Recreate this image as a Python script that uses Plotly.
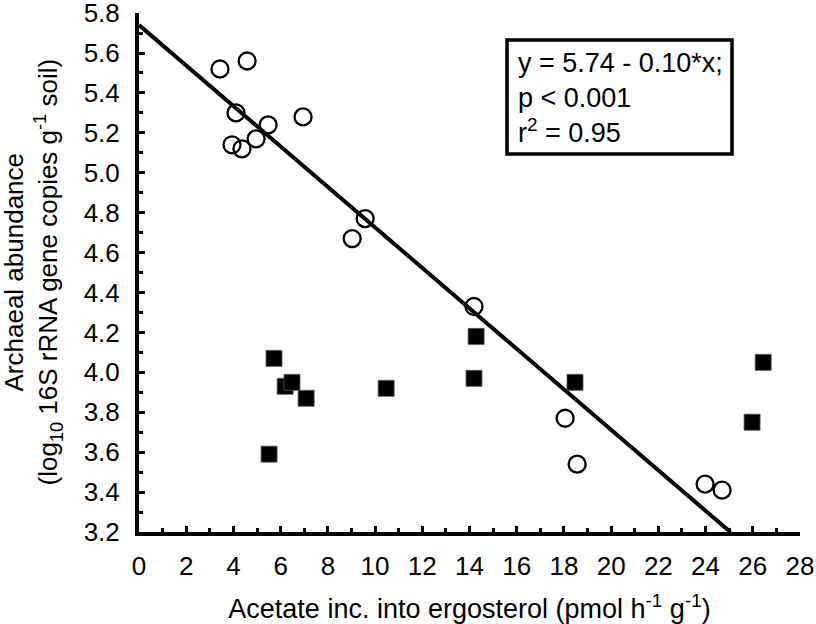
import plotly.graph_objects as go

# Open circles
circle_x = [3.43, 4.58, 4.11, 3.94, 4.36, 4.96, 5.47, 6.95, 9.03, 9.58, 14.19, 18.05, 18.56, 23.98, 24.70]
circle_y = [5.52, 5.56, 5.30, 5.14, 5.12, 5.17, 5.24, 5.28, 4.67, 4.77, 4.33, 3.77, 3.54, 3.44, 3.41]

# Filled squares
square_x = [5.72, 6.19, 6.48, 7.08, 10.47, 14.19, 14.28, 18.47, 25.97, 26.44, 5.51]
square_y = [4.07, 3.93, 3.95, 3.87, 3.92, 3.97, 4.18, 3.95, 3.75, 4.05, 3.59]

# Regression line end points
fit_x = [0.0, 25.05]
fit_y = [5.74, 3.20]

x_ticks = list(range(0, 29, 2))
y_ticks = [3.2, 3.4, 3.6, 3.8, 4.0, 4.2, 4.4, 4.6, 4.8, 5.0, 5.2, 5.4, 5.6, 5.8]
y_tick_text = [f"{v:.1f}" for v in y_ticks]

FONT = "Liberation Sans, Arial, sans-serif"

fig = go.Figure()
fig.add_trace(go.Scatter(x=fit_x, y=fit_y, mode="lines",
                         line=dict(color="black", width=4), cliponaxis=False,
                         showlegend=False, hoverinfo="skip"))
fig.add_trace(go.Scatter(x=circle_x, y=circle_y, mode="markers",
                         marker=dict(symbol="circle-open", size=17, color="black",
                                     line=dict(width=2.3, color="black")),
                         cliponaxis=False, showlegend=False))
fig.add_trace(go.Scatter(x=square_x, y=square_y, mode="markers",
                         marker=dict(symbol="square", size=16, color="black",
                                     line=dict(width=0.8, color="#555")),
                         cliponaxis=False, showlegend=False))

fig.update_layout(
    width=816, height=624,
    margin=dict(l=139, r=16, t=13, b=92, autoexpand=False),
    paper_bgcolor="white", plot_bgcolor="white",
    font=dict(family=FONT, size=26, color="black"),
    showlegend=False,
)
fig.update_xaxes(
    range=[0, 28], tickvals=x_ticks, ticktext=[str(v) for v in x_ticks],
    showgrid=False, zeroline=False, automargin=False,
    showline=True, linecolor="black", linewidth=4,
    ticks="inside", ticklen=6, tickwidth=3, tickcolor="black",
    minor=dict(dtick=1, ticks="inside", ticklen=4, tickwidth=3, tickcolor="black"),
    ticklabelstandoff=8, ticklabeloverflow="allow",
    tickfont=dict(size=26),
    title=dict(text="Acetate inc. into ergosterol (pmol h<sup>-1</sup> g<sup>-1</sup>)",
               font=dict(size=27), standoff=23),
)
fig.update_yaxes(
    range=[3.2, 5.8005], tickvals=y_ticks, ticktext=y_tick_text,
    showgrid=False, zeroline=False, automargin=False,
    showline=True, linecolor="black", linewidth=4,
    ticks="inside", ticklen=6, tickwidth=3, tickcolor="black",
    minor=dict(dtick=0.1, ticks="inside", ticklen=4, tickwidth=3, tickcolor="black"),
    ticklabelstandoff=10, ticklabeloverflow="allow",
    tickfont=dict(size=26),
)

# Y axis title (two lines)
fig.add_annotation(text="Archaeal abundance", textangle=-90,
                   xref="paper", yref="paper", x=(13 - 139) / 661, y=0.5,
                   xanchor="center", yanchor="middle", showarrow=False,
                   font=dict(size=26))
fig.add_annotation(text="(log<sub>10</sub> 16S rRNA gene copies g<sup>-1</sup> soil)", textangle=-90,
                   xref="paper", yref="paper", x=(48 - 139) / 661, y=0.5,
                   xanchor="center", yanchor="middle", showarrow=False,
                   font=dict(size=26))

# Statistics box
fig.add_shape(type="rect", xref="paper", yref="paper",
              x0=(507 - 139) / 661, x1=(732 - 139) / 661,
              y0=(532 - 154) / 519, y1=(532 - 40) / 519,
              line=dict(color="black", width=3.5), fillcolor="white", layer="above")
fig.add_annotation(text="y = 5.74 - 0.10*x;<br>p < 0.001<br>r<sup>2</sup> = 0.95",
                   xref="paper", yref="paper", x=(516 - 139) / 661, y=(532 - 98) / 519,
                   xanchor="left", yanchor="middle", align="left", showarrow=False,
                   font=dict(size=27))

fig.write_html("out.html", config={"displayModeBar": False},
               post_script="document.body.style.margin='0px';")
